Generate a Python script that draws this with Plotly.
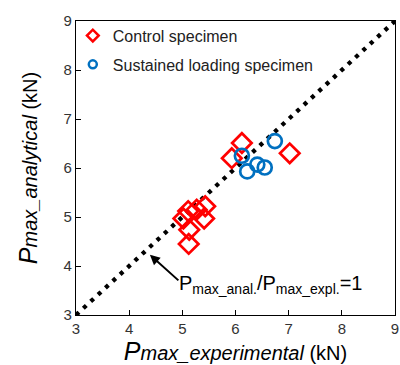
import plotly.graph_objects as go

# Data
control_x = [6.12, 5.93, 7.02, 5.02, 5.11, 5.27, 5.43, 5.41, 5.13, 5.12]
control_y = [6.51, 6.20, 6.30, 4.97, 5.12, 5.15, 5.22, 4.97, 4.74, 4.45]
sustained_x = [6.74, 6.12, 6.22, 6.41, 6.55]
sustained_y = [6.55, 6.25, 5.93, 6.07, 6.01]
line_x = [3, 9]
line_y = [3, 9]
tick_vals = [3, 4, 5, 6, 7, 8, 9]

FONT = "Liberation Sans, Arial, sans-serif"
RED = "#FF0000"
BLUE = "#0070C0"

fig = go.Figure()
fig.add_trace(go.Scatter(
    x=line_x, y=line_y, mode="lines", showlegend=False, hoverinfo="skip",
    line=dict(color="black", width=4.3, dash="4px,6px"),
))
fig.add_trace(go.Scatter(
    x=control_x, y=control_y, mode="markers", name="Control specimen",
    showlegend=False,
    marker=dict(symbol="diamond-open", size=15, color=RED,
                line=dict(color=RED, width=2.7)),
))
fig.add_trace(go.Scatter(
    x=sustained_x, y=sustained_y, mode="markers", name="Sustained loading specimen",
    showlegend=False,
    marker=dict(symbol="circle-open", size=14, color=BLUE,
                line=dict(color=BLUE, width=2.7)),
))
# legend entries (smaller symbols, as in the reference legend)
fig.add_trace(go.Scatter(
    x=[None], y=[None], mode="markers", name="Control specimen", legendgroup="a",
    marker=dict(symbol="diamond-open", size=9, color=RED, line=dict(color=RED, width=2.5)),
))
fig.add_trace(go.Scatter(
    x=[None], y=[None], mode="markers", name="Sustained loading specimen", legendgroup="b",
    marker=dict(symbol="circle-open", size=8, color=BLUE, line=dict(color=BLUE, width=2.5)),
))

fig.add_annotation(
    x=4.39, y=4.23, xref="x", yref="y",
    ax=30, ay=27, text=" ", font=dict(size=1),
    showarrow=True, arrowhead=2, arrowsize=1, arrowwidth=2, arrowcolor="black",
)
fig.add_annotation(
    x=4.9, y=3.63, xref="x", yref="y", xanchor="left", yanchor="middle",
    text="P<sub>max_anal.</sub>/P<sub>max_expl.</sub>=1",
    showarrow=False, font=dict(family=FONT, size=20, color="black"),
)

axis_common = dict(
    range=[3, 9], tickvals=tick_vals, ticks="inside", ticklen=5, tickwidth=1,
    tickcolor="black", showline=True, linecolor="black", linewidth=1.3,
    mirror=True, showgrid=False, zeroline=False, automargin=False,
    tickfont=dict(family=FONT, size=15, color="#333333"),
)
fig.update_xaxes(
    **axis_common,
    title=dict(text="<span style='font-size:25px'><i>P</i></span><i>max_experimental</i> (kN)",
               font=dict(family=FONT, size=20, color="black"), standoff=2),
)
fig.update_yaxes(
    **axis_common,
    title=dict(text="<span style='font-size:25px'><i>P</i></span><i>max_analytical</i> (kN)",
               font=dict(family=FONT, size=20, color="black"), standoff=20),
)

fig.update_layout(
    width=400, height=365,
    margin=dict(l=76, r=5, t=21, b=50),
    plot_bgcolor="white", paper_bgcolor="white",
    legend=dict(x=-0.01, y=1.008, xanchor="left", yanchor="top",
                font=dict(family=FONT, size=16, color="#222222"),
                bgcolor="rgba(0,0,0,0)", traceorder="grouped", tracegroupgap=5),
)

fig.write_html("out.html")
